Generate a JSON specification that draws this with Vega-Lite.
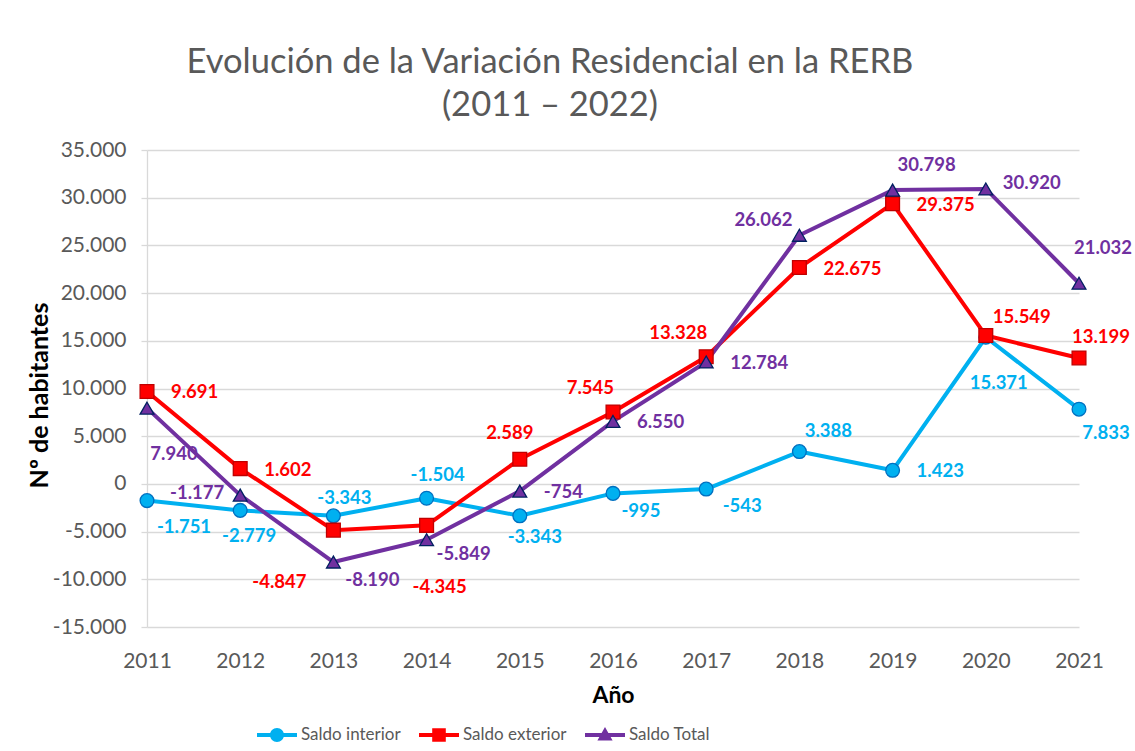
{
  "$schema": "https://vega.github.io/schema/vega-lite/v6.json",
  "autosize": {"type": "none"},
  "width": 932,
  "height": 477,
  "padding": {"left": 147, "top": 150, "right": 56, "bottom": 124},
  "background": "white",
  "config": {
    "locale": {"number": {"decimal": ",", "thousands": ".", "grouping": [3], "currency": ["", " €"], "minus": "-"}},
    "view": {"stroke": null},
    "font": "Lato"
  },
  "title": {
    "text": ["Evolución de la Variación Residencial en la RERB", "(2011 – 2022)"],
    "font": "Lato",
    "fontSize": 34.5,
    "fontWeight": "normal",
    "color": "#595959",
    "anchor": "middle",
    "frame": "group",
    "dx": -63,
    "offset": 16,
    "lineHeight": 43
  },
  "data": {
    "values": [
      {"year": 2011, "serie": "Saldo interior", "valor": -1751},
      {"year": 2012, "serie": "Saldo interior", "valor": -2779},
      {"year": 2013, "serie": "Saldo interior", "valor": -3343},
      {"year": 2014, "serie": "Saldo interior", "valor": -1504},
      {"year": 2015, "serie": "Saldo interior", "valor": -3343},
      {"year": 2016, "serie": "Saldo interior", "valor": -995},
      {"year": 2017, "serie": "Saldo interior", "valor": -543},
      {"year": 2018, "serie": "Saldo interior", "valor": 3388},
      {"year": 2019, "serie": "Saldo interior", "valor": 1423},
      {"year": 2020, "serie": "Saldo interior", "valor": 15371},
      {"year": 2021, "serie": "Saldo interior", "valor": 7833},
      {"year": 2011, "serie": "Saldo exterior", "valor": 9691},
      {"year": 2012, "serie": "Saldo exterior", "valor": 1602},
      {"year": 2013, "serie": "Saldo exterior", "valor": -4847},
      {"year": 2014, "serie": "Saldo exterior", "valor": -4345},
      {"year": 2015, "serie": "Saldo exterior", "valor": 2589},
      {"year": 2016, "serie": "Saldo exterior", "valor": 7545},
      {"year": 2017, "serie": "Saldo exterior", "valor": 13328},
      {"year": 2018, "serie": "Saldo exterior", "valor": 22675},
      {"year": 2019, "serie": "Saldo exterior", "valor": 29375},
      {"year": 2020, "serie": "Saldo exterior", "valor": 15549},
      {"year": 2021, "serie": "Saldo exterior", "valor": 13199},
      {"year": 2011, "serie": "Saldo Total", "valor": 7940},
      {"year": 2012, "serie": "Saldo Total", "valor": -1177},
      {"year": 2013, "serie": "Saldo Total", "valor": -8190},
      {"year": 2014, "serie": "Saldo Total", "valor": -5849},
      {"year": 2015, "serie": "Saldo Total", "valor": -754},
      {"year": 2016, "serie": "Saldo Total", "valor": 6550},
      {"year": 2017, "serie": "Saldo Total", "valor": 12784},
      {"year": 2018, "serie": "Saldo Total", "valor": 26062},
      {"year": 2019, "serie": "Saldo Total", "valor": 30798},
      {"year": 2020, "serie": "Saldo Total", "valor": 30920},
      {"year": 2021, "serie": "Saldo Total", "valor": 21032}
    ]
  },
  "encoding": {
    "x": {
      "field": "year",
      "type": "ordinal",
      "scale": {"type": "point", "padding": 0},
      "axis": {
        "title": "Año",
        "titleFont": "Lato",
        "titleFontSize": 23,
        "titleFontWeight": "bold",
        "titleColor": "#000000",
        "titleBaseline": "alphabetic",
        "titleY": 75,
        "labelAngle": 0,
        "labelFont": "Lato",
        "labelFontSize": 21,
        "labelColor": "#595959",
        "labelPadding": 23,
        "ticks": false,
        "tickSize": 0,
        "domain": false,
        "grid": false
      }
    },
    "y": {
      "field": "valor",
      "type": "quantitative",
      "scale": {"domain": [-15000, 35000], "nice": false, "zero": false},
      "axis": {
        "title": "Nº de habitantes",
        "titleFont": "Lato",
        "titleFontSize": 25,
        "titleFontWeight": "bold",
        "titleColor": "#000000",
        "titleX": -95,
        "titleY": 245,
        "values": [-15000, -10000, -5000, 0, 5000, 10000, 15000, 20000, 25000, 30000, 35000],
        "format": ",d",
        "labelFont": "Lato",
        "labelFontSize": 21,
        "labelColor": "#595959",
        "labelPadding": 15,
        "tickSize": 6,
        "tickColor": "#d9d9d9",
        "tickWidth": 1.3,
        "domainColor": "#d9d9d9",
        "domainWidth": 1.3,
        "grid": true,
        "gridColor": "#d9d9d9",
        "gridWidth": 1.3
      }
    }
  },
  "layer": [
    {
      "data": {"values": [{"ref": 0}]},
      "mark": {"type": "rule", "color": "#000000", "strokeWidth": 1.5},
      "encoding": {"x": null, "y": {"datum": 0}}
    },
    {
      "encoding": {
        "color": {
          "field": "serie",
          "type": "nominal",
          "scale": {"domain": ["Saldo interior", "Saldo exterior", "Saldo Total"], "range": ["#00b0f0", "#ff0000", "#7030a0"]},
          "legend": null
        }
      },
      "resolve": {"scale": {"shape": "independent", "fill": "independent"}, "legend": {"shape": "independent", "fill": "independent"}},
      "layer": [
        {
          "mark": {"type": "line", "strokeWidth": 4, "strokeJoin": "round"}
        },
        {
          "mark": {"type": "point", "filled": true, "opacity": 1, "strokeWidth": 1.3, "size": 190},
          "encoding": {
            "shape": {
              "field": "serie",
              "type": "nominal",
              "scale": {"domain": ["Saldo interior", "Saldo exterior", "Saldo Total"], "range": ["circle", "square", "triangle-up"]},
              "legend": null
            },
            "stroke": {
              "field": "serie",
              "type": "nominal",
              "scale": {"domain": ["Saldo interior", "Saldo exterior", "Saldo Total"], "range": ["#0070c0", "#c00000", "#002060"]},
              "legend": null
            }
          }
        },
        {
          "mark": {"type": "point", "filled": true, "opacity": 0, "size": 1600},
          "encoding": {
            "fill": {
              "field": "serie",
              "type": "nominal",
              "scale": {"domain": ["Saldo interior", "Saldo exterior", "Saldo Total"], "range": ["#00b0f0", "#ff0000", "#7030a0"]},
              "legend": {
                "orient": "none",
                "direction": "horizontal",
                "legendX": 110,
                "legendY": 565,
                "title": null,
                "padding": 0,
                "symbolSize": 1600,
                "symbolOpacity": 1,
                "symbolStrokeWidth": 0,
                "labelFont": "Lato",
                "labelFontSize": 17,
                "labelColor": "#595959",
                "labelOffset": 4,
                "columnPadding": 18
              }
            },
            "shape": {
              "field": "serie",
              "type": "nominal",
              "scale": {
                "domain": ["Saldo interior", "Saldo exterior", "Saldo Total"],
                "range": [
                  "M-1,-0.1H1V0.1H-1ZM0.35,0A0.35,0.35,0,1,1,-0.35,0A0.35,0.35,0,1,1,0.35,0Z",
                  "M-1,-0.1H1V0.1H-1ZM-0.34,-0.34H0.34V0.34H-0.34Z",
                  "M-1,-0.1H1V0.1H-1ZM0,-0.4L0.38,0.28H-0.38Z"
                ]
              },
              "legend": {
                "orient": "none",
                "direction": "horizontal",
                "legendX": 110,
                "legendY": 565,
                "title": null,
                "padding": 0,
                "symbolSize": 1600,
                "symbolOpacity": 1,
                "symbolStrokeWidth": 0,
                "labelFont": "Lato",
                "labelFontSize": 17,
                "labelColor": "#595959",
                "labelOffset": 4,
                "columnPadding": 18
              }
            }
          }
        },
        {
          "encoding": {
            "text": {"field": "valor", "type": "quantitative", "format": ",d"}
          },
          "layer": [
            {
              "transform": [{"filter": "(datum.serie == 'Saldo exterior' && indexof([2011, 2012, 2018, 2019], datum.year) >= 0) || (datum.serie == 'Saldo Total' && indexof([2015, 2016, 2017], datum.year) >= 0) || (datum.serie == 'Saldo interior' && datum.year == 2019)"}],
              "mark": {"type": "text", "font": "Lato", "fontSize": 18.5, "fontWeight": "bold", "baseline": "middle", "align": "left", "dx": 24, "dy": 1}
            },
            {
              "transform": [{"filter": "datum.serie == 'Saldo interior' && datum.year == 2011"}],
              "mark": {"type": "text", "font": "Lato", "fontSize": 18.5, "fontWeight": "bold", "baseline": "middle", "dx": 37, "dy": 26}
            },
            {
              "transform": [{"filter": "datum.serie == 'Saldo interior' && datum.year == 2012"}],
              "mark": {"type": "text", "font": "Lato", "fontSize": 18.5, "fontWeight": "bold", "baseline": "middle", "dx": 9, "dy": 26}
            },
            {
              "transform": [{"filter": "datum.serie == 'Saldo interior' && datum.year == 2013"}],
              "mark": {"type": "text", "font": "Lato", "fontSize": 18.5, "fontWeight": "bold", "baseline": "middle", "dx": 11, "dy": -18}
            },
            {
              "transform": [{"filter": "datum.serie == 'Saldo interior' && datum.year == 2014"}],
              "mark": {"type": "text", "font": "Lato", "fontSize": 18.5, "fontWeight": "bold", "baseline": "middle", "dx": 11, "dy": -23}
            },
            {
              "transform": [{"filter": "datum.serie == 'Saldo interior' && datum.year == 2015"}],
              "mark": {"type": "text", "font": "Lato", "fontSize": 18.5, "fontWeight": "bold", "baseline": "middle", "dx": 15, "dy": 21}
            },
            {
              "transform": [{"filter": "datum.serie == 'Saldo interior' && datum.year == 2016"}],
              "mark": {"type": "text", "font": "Lato", "fontSize": 18.5, "fontWeight": "bold", "baseline": "middle", "dx": 28, "dy": 18}
            },
            {
              "transform": [{"filter": "datum.serie == 'Saldo interior' && datum.year == 2017"}],
              "mark": {"type": "text", "font": "Lato", "fontSize": 18.5, "fontWeight": "bold", "baseline": "middle", "dx": 36, "dy": 17}
            },
            {
              "transform": [{"filter": "datum.serie == 'Saldo interior' && datum.year == 2018"}],
              "mark": {"type": "text", "font": "Lato", "fontSize": 18.5, "fontWeight": "bold", "baseline": "middle", "dx": 29, "dy": -21}
            },
            {
              "transform": [{"filter": "datum.serie == 'Saldo interior' && datum.year == 2020"}],
              "mark": {"type": "text", "font": "Lato", "fontSize": 18.5, "fontWeight": "bold", "baseline": "middle", "dx": 13, "dy": 46}
            },
            {
              "transform": [{"filter": "datum.serie == 'Saldo interior' && datum.year == 2021"}],
              "mark": {"type": "text", "font": "Lato", "fontSize": 18.5, "fontWeight": "bold", "baseline": "middle", "dx": 27, "dy": 24}
            },
            {
              "transform": [{"filter": "datum.serie == 'Saldo exterior' && datum.year == 2013"}],
              "mark": {"type": "text", "font": "Lato", "fontSize": 18.5, "fontWeight": "bold", "baseline": "middle", "dx": -54, "dy": 52}
            },
            {
              "transform": [{"filter": "datum.serie == 'Saldo exterior' && datum.year == 2014"}],
              "mark": {"type": "text", "font": "Lato", "fontSize": 18.5, "fontWeight": "bold", "baseline": "middle", "dx": 13, "dy": 62}
            },
            {
              "transform": [{"filter": "datum.serie == 'Saldo exterior' && datum.year == 2015"}],
              "mark": {"type": "text", "font": "Lato", "fontSize": 18.5, "fontWeight": "bold", "baseline": "middle", "dx": -10, "dy": -26}
            },
            {
              "transform": [{"filter": "datum.serie == 'Saldo exterior' && (datum.year == 2016 || datum.year == 2017)"}],
              "mark": {"type": "text", "font": "Lato", "fontSize": 18.5, "fontWeight": "bold", "baseline": "middle", "align": "right", "dx": 1, "dy": -24}
            },
            {
              "transform": [{"filter": "datum.serie == 'Saldo exterior' && datum.year == 2020"}],
              "mark": {"type": "text", "font": "Lato", "fontSize": 18.5, "fontWeight": "bold", "baseline": "middle", "dx": 36, "dy": -19}
            },
            {
              "transform": [{"filter": "datum.serie == 'Saldo exterior' && datum.year == 2021"}],
              "mark": {"type": "text", "font": "Lato", "fontSize": 18.5, "fontWeight": "bold", "baseline": "middle", "dx": 22, "dy": -21}
            },
            {
              "transform": [{"filter": "datum.serie == 'Saldo Total' && datum.year == 2011"}],
              "mark": {"type": "text", "font": "Lato", "fontSize": 18.5, "fontWeight": "bold", "baseline": "middle", "dx": 27, "dy": 46}
            },
            {
              "transform": [{"filter": "datum.serie == 'Saldo Total' && datum.year == 2012"}],
              "mark": {"type": "text", "font": "Lato", "fontSize": 18.5, "fontWeight": "bold", "baseline": "middle", "dx": -43, "dy": -2}
            },
            {
              "transform": [{"filter": "datum.serie == 'Saldo Total' && datum.year == 2013"}],
              "mark": {"type": "text", "font": "Lato", "fontSize": 18.5, "fontWeight": "bold", "baseline": "middle", "dx": 39, "dy": 18}
            },
            {
              "transform": [{"filter": "datum.serie == 'Saldo Total' && datum.year == 2014"}],
              "mark": {"type": "text", "font": "Lato", "fontSize": 18.5, "fontWeight": "bold", "baseline": "middle", "dx": 37, "dy": 14}
            },
            {
              "transform": [{"filter": "datum.serie == 'Saldo Total' && datum.year == 2018"}],
              "mark": {"type": "text", "font": "Lato", "fontSize": 18.5, "fontWeight": "bold", "baseline": "middle", "dx": -36, "dy": -15}
            },
            {
              "transform": [{"filter": "datum.serie == 'Saldo Total' && datum.year == 2019"}],
              "mark": {"type": "text", "font": "Lato", "fontSize": 18.5, "fontWeight": "bold", "baseline": "middle", "dx": 34, "dy": -25}
            },
            {
              "transform": [{"filter": "datum.serie == 'Saldo Total' && datum.year == 2020"}],
              "mark": {"type": "text", "font": "Lato", "fontSize": 18.5, "fontWeight": "bold", "baseline": "middle", "dx": 46, "dy": -6}
            },
            {
              "transform": [{"filter": "datum.serie == 'Saldo Total' && datum.year == 2021"}],
              "mark": {"type": "text", "font": "Lato", "fontSize": 18.5, "fontWeight": "bold", "baseline": "middle", "dx": 24, "dy": -35}
            }
          ]
        }
      ]
    }
  ]
}
